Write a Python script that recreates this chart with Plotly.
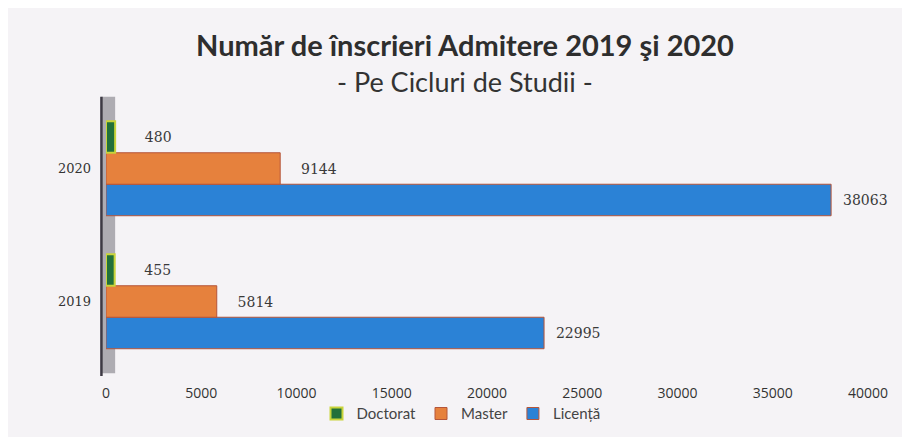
import plotly.graph_objects as go

years = ["2019", "2020"]
doctorat = [455, 480]
master = [5814, 9144]
licenta = [22995, 38063]
tick_vals = [0, 5000, 10000, 15000, 20000, 25000, 30000, 35000, 40000]

label_font = dict(family="DejaVu Serif", size=14, color="#3a3a3a")
PAD = "\u00a0\u00a0"

fig = go.Figure()
fig.add_trace(go.Bar(
    y=years, x=licenta, name="Licență", orientation="h",
    marker=dict(color="#2b82d6", line=dict(color="#b5553a", width=1)),
    text=[PAD + str(v) for v in licenta], textposition="outside", textfont=label_font,
    cliponaxis=False,
))
fig.add_trace(go.Bar(
    y=years, x=master, name="Master", orientation="h",
    marker=dict(color="#e6813d", line=dict(color="#b5553a", width=1)),
    text=[PAD + PAD + str(v) for v in master], textposition="outside", textfont=label_font,
    cliponaxis=False,
))
fig.add_trace(go.Bar(
    y=years, x=doctorat, name="Doctorat", orientation="h",
    marker=dict(color="#22703a", line=dict(color="#c9d43a", width=2)),
    text=[PAD + PAD + PAD + str(v) for v in doctorat], textposition="outside", textfont=label_font,
    cliponaxis=False,
))

fig.update_layout(
    width=910, height=437,
    paper_bgcolor="#f5f3f6", plot_bgcolor="rgba(0,0,0,0)",
    margin=dict(l=98, r=50, t=94, b=77, autoexpand=False),
    barmode="group", bargap=0.29, bargroupgap=0,
    title=dict(text="<b>Număr de înscrieri Admitere 2019 şi 2020</b>",
               x=457 / 910, xanchor="center", y=0.913, yanchor="middle",
               font=dict(family="Lato", size=29, color="#2e2e2e")),
    showlegend=True,
    legend=dict(orientation="h", traceorder="reversed", x=(453 - 98) / 762, xanchor="center",
                y=-0.172, yanchor="middle", font=dict(family="Lato", size=15, color="#444444"),
                itemwidth=30, bgcolor="rgba(0,0,0,0)"),
    annotations=[dict(text="- Pe Cicluri de Studii -", xref="paper", yref="paper",
                      x=(457 - 98) / 762, y=1.0 + (94 - 73) / 266, xanchor="center", yanchor="middle",
                      showarrow=False, font=dict(family="Lato", size=27, color="#333333"))],
    shapes=[
        dict(type="rect", xref="paper", yref="paper", x0=-0.006, x1=0.012, y0=-0.02, y1=1.02,
             fillcolor="#aeacb2", line=dict(width=0), layer="below"),
        dict(type="line", xref="paper", yref="paper", x0=-0.006, x1=-0.006, y0=-0.03, y1=1.02,
             line=dict(color="#3d3a44", width=2.5)),
    ],
)
fig.update_xaxes(range=[0, 40000], tickvals=tick_vals, ticktext=[str(v) for v in tick_vals],
                 showgrid=False, zeroline=False, showline=False, automargin=False,
                 tickfont=dict(family="Open Sans", size=14, color="#333333"), ticklabelstandoff=15)
fig.update_yaxes(categoryorder="array", categoryarray=years, showgrid=False, zeroline=False,
                 showline=False, automargin=False,
                 tickfont=dict(family="DejaVu Serif", size=13, color="#333333"),
                 ticklabelstandoff=14)

fig.write_html("out.html")
